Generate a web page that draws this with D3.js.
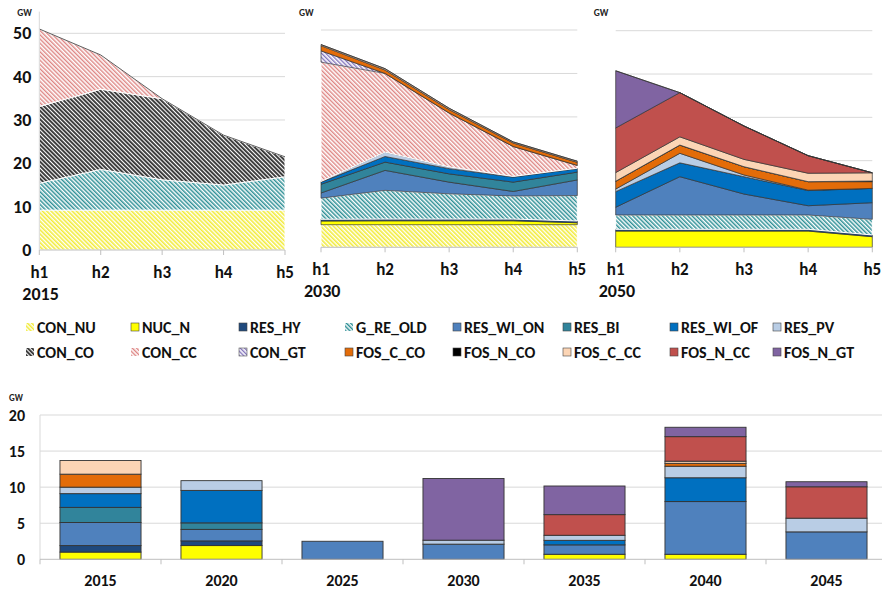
<!DOCTYPE html>
<html>
<head>
<meta charset="utf-8">
<script src="https://cdn.jsdelivr.net/npm/d3@7"></script>
<style>
  body { margin: 0; background: #fff; }
  svg { display: block; font-family: Carlito, Lato, "Open Sans", sans-serif; font-weight: bold; }
</style>
</head>
<body>
<svg id="chart" width="882" height="590"></svg>
<script>
// ---- data -------------------------------------------------------------
const hours = ["h1", "h2", "h3", "h4", "h5"];
const yearLabels = ["2015", "2030", "2050"];
const barYears = ["2015", "2020", "2025", "2030", "2035", "2040", "2045"];
const areaTicks = [0, 10, 20, 30, 40, 50];
const barTicks = [0, 5, 10, 15, 20];

const legendRow1 = ["CON_NU", "NUC_N", "RES_HY", "G_RE_OLD", "RES_WI_ON", "RES_BI", "RES_WI_OF", "RES_PV"];
const legendRow2 = ["CON_CO", "CON_CC", "CON_GT", "FOS_C_CO", "FOS_N_CO", "FOS_C_CC", "FOS_N_CC", "FOS_N_GT"];

// installed capacity (GW) per load hour, stacked bottom to top
const cap2015 = [
  ["CON_NU",   [9.2, 9.2, 9.2, 9.2, 9.2]],
  ["G_RE_OLD", [6.2, 9.4, 7.0, 5.8, 7.7]],
  ["CON_CO",   [17.7, 18.5, 18.7, 11.5, 4.6]],
  ["CON_CC",   [17.9, 7.9, 0, 0, 0]]
];
const cap2030 = [
  ["CON_NU",    [5.2, 5.2, 5.2, 5.2, 5.2]],
  ["NUC_N",     [0.85, 0.9, 0.9, 0.9, 0.45]],
  ["RES_HY",    [0.4, 0.4, 0.4, 0.4, 0.4]],
  ["G_RE_OLD",  [4.85, 6.6, 5.8, 5.3, 5.85]],
  ["RES_WI_ON", [1.2, 4.6, 2.7, 1.05, 3.6]],
  ["RES_BI",    [2.0, 1.9, 1.9, 2.15, 1.8]],
  ["RES_WI_OF", [0.5, 1.3, 1.2, 1.15, 0.8]],
  ["RES_PV",    [0.15, 1.0, 0.4, 0.15, 0.1]],
  ["CON_CC",    [27.45, 18.1, 12.4, 6.9, 0.65]],
  ["CON_GT",    [2.6, 0, 0, 0, 0]],
  ["FOS_C_CO",  [1.2, 0.8, 0.8, 0.8, 0.7]],
  ["FOS_C_CC",  [0.25, 0.3, 0.3, 0.25, 0.25]]
];
const cap2050 = [
  ["NUC_N",     [3.75, 3.75, 3.75, 3.75, 2.45]],
  ["RES_HY",    [0.4, 0.4, 0.4, 0.4, 0.4]],
  ["G_RE_OLD",  [3.3, 3.3, 3.3, 3.3, 3.6]],
  ["RES_WI_ON", [1.8, 8.85, 4.85, 2.15, 3.85]],
  ["RES_WI_OF", [3.6, 3.2, 4.0, 3.5, 3.3]],
  ["RES_PV",    [0.6, 2.2, 0.4, 0.1, 0]],
  ["FOS_C_CO",  [1.8, 1.9, 1.9, 1.95, 1.55]],
  ["FOS_N_CO",  [0, 0, 0, 0, 0.15]],
  ["FOS_C_CC",  [2.0, 1.9, 1.7, 1.95, 1.9]],
  ["FOS_N_CC",  [10.3, 10.2, 7.7, 4.05, 0]],
  ["FOS_N_GT",  [13.2, 0, 0, 0, 0]]
];

// new-build capacity (GW) per investment year
const newBuild = [
  ["NUC_N",     [1.0, 1.9, 0, 0, 0.7, 0.7, 0]],
  ["RES_HY",    [0.9, 0.65, 0, 0, 0, 0, 0]],
  ["RES_WI_ON", [3.2, 1.6, 2.5, 2.1, 1.3, 7.3, 3.8]],
  ["RES_BI",    [2.1, 0.9, 0, 0, 0, 0, 0]],
  ["RES_WI_OF", [1.9, 4.5, 0, 0, 0.63, 3.3, 0]],
  ["RES_PV",    [0.9, 1.35, 0, 0.55, 0.7, 1.6, 1.9]],
  ["FOS_C_CO",  [1.8, 0, 0, 0, 0, 0.4, 0]],
  ["FOS_C_CC",  [1.9, 0, 0, 0, 0, 0.3, 0]],
  ["FOS_N_CC",  [0, 0, 0, 0, 2.86, 3.4, 4.35]],
  ["FOS_N_GT",  [0, 0, 0, 8.55, 3.97, 1.3, 0.7]]
];

// ---- styles -----------------------------------------------------------
const solid = {
  NUC_N: "#ffff00", RES_HY: "#1f497d", RES_WI_ON: "#4f81bd", RES_BI: "#31849b",
  RES_WI_OF: "#0070c0", RES_PV: "#b9cde5", FOS_C_CO: "#e36c09", FOS_N_CO: "#000000",
  FOS_C_CC: "#fcd5b5", FOS_N_CC: "#c0504d", FOS_N_GT: "#8064a2"
};
// fine diagonal hatches for the conventional / old fleets
const hatch = {
  CON_NU:   { line: "#f2ec3c", w: 1.6, edge: "#ffffff" },
  G_RE_OLD: { line: "#2f9096", w: 1.5, edge: "#ffffff" },
  CON_CO:   { line: "#363636", w: 1.9, edge: "#ffffff" },
  CON_CC:   { line: "#de8684", w: 1.4, edge: "#ffffff" },
  CON_GT:   { line: "#8577bd", w: 1.4, edge: "#3a3a3a" }
};
const hatchPeriod = 3;

const svg = d3.select("#chart");
const defs = svg.append("defs");
Object.entries(hatch).forEach(([k, h]) => {
  const p = defs.append("pattern")
    .attr("id", "hatch-" + k)
    .attr("patternUnits", "userSpaceOnUse")
    .attr("width", hatchPeriod).attr("height", hatchPeriod)
    .attr("patternTransform", "rotate(-45)");
  p.append("rect").attr("width", hatchPeriod).attr("height", hatchPeriod).attr("fill", "#fff");
  p.append("rect").attr("width", h.w).attr("height", hatchPeriod).attr("fill", h.line);
});
const fillOf = k => hatch[k] ? `url(#hatch-${k})` : solid[k];
const strokeOf = k => hatch[k] ? hatch[k].edge : "#333";

// ---- area panels ------------------------------------------------------
const panels = [
  { data: cap2015, x0: 39.3, x1: 285, yBase: 250, y50: 33.3, labels: true, hourY: 278, yearY: 300 },
  { data: cap2030, x0: 321, x1: 577.3, yBase: 247.3, y50: 30, labels: false, hourY: 275, yearY: 297 },
  { data: cap2050, x0: 615.7, x1: 872.3, yBase: 247.3, y50: 30.7, labels: false, hourY: 275, yearY: 297 }
];

panels.forEach((p, pi) => {
  const g = svg.append("g");
  const x = d3.scalePoint().domain(hours).range([p.x0, p.x1]);
  const y = d3.scaleLinear().domain([0, 50]).range([p.yBase, p.y50]);

  g.selectAll("line.grid").data(areaTicks.filter(d => d > 0)).join("line")
    .attr("x1", p.x0).attr("x2", p.x1)
    .attr("y1", d => y(d)).attr("y2", d => y(d))
    .attr("stroke", "#d9d9d9").attr("stroke-width", 1);

  const rows = hours.map((h, i) => {
    const o = { hour: h };
    p.data.forEach(([k, v]) => { o[k] = v[i]; });
    return o;
  });
  const stacked = d3.stack().keys(p.data.map(d => d[0]))(rows);
  const area = d3.area()
    .x(d => x(d.data.hour))
    .y0(d => y(d[0]))
    .y1(d => y(d[1]));

  g.selectAll("path.layer").data(stacked).join("path")
    .attr("d", area)
    .attr("fill", d => fillOf(d.key))
    .attr("stroke", d => strokeOf(d.key))
    .attr("stroke-width", d => hatch[d.key] && hatch[d.key].edge === "#ffffff" ? 1 : 0.7)
    .attr("stroke-linejoin", "round");

  // outline of the total
  const top = stacked[stacked.length - 1];
  g.append("path")
    .attr("d", d3.line().x(d => x(d.data.hour)).y(d => y(d[1]))(top))
    .attr("fill", "none").attr("stroke", "#333").attr("stroke-width", 0.8);

  // x axis
  g.append("line").attr("x1", p.x0).attr("x2", p.x1)
    .attr("y1", p.yBase).attr("y2", p.yBase)
    .attr("stroke", "#bfbfbf");
  g.selectAll("line.tick").data(hours).join("line")
    .attr("x1", d => x(d)).attr("x2", d => x(d))
    .attr("y1", p.yBase).attr("y2", p.yBase + 5)
    .attr("stroke", "#bfbfbf");
  g.selectAll("text.hour").data(hours).join("text")
    .attr("x", d => x(d)).attr("y", p.hourY)
    .attr("text-anchor", "middle").attr("font-size", 17).attr("fill", "#111")
    .text(d => d);
  g.append("text").attr("x", p.x0 - 17).attr("y", p.yearY)
    .attr("font-size", 18).attr("fill", "#111").text(yearLabels[pi]);
  g.append("text").attr("x", p.x0 - 22).attr("y", 16)
    .attr("font-size", 9.5).attr("fill", "#222").text("GW");

  if (p.labels) {
    g.append("line").attr("x1", p.x0).attr("x2", p.x0)
      .attr("y1", p.yBase).attr("y2", y(55))
      .attr("stroke", "#d9d9d9");
    g.selectAll("text.ytick").data(areaTicks).join("text")
      .attr("x", p.x0 - 8).attr("y", d => y(d) + 6)
      .attr("text-anchor", "end").attr("font-size", 18).attr("fill", "#111")
      .text(d => d);
  }
});

// ---- legend -----------------------------------------------------------
const legendX = [26, 131, 239, 345, 453, 563, 670, 773];
[[legendRow1, 327], [legendRow2, 352]].forEach(([row, cy]) => {
  const lg = svg.append("g");
  row.forEach((k, i) => {
    const item = lg.append("g").attr("transform", `translate(${legendX[i]},${cy})`);
    item.append("rect").attr("x", 0).attr("y", -4).attr("width", 8).attr("height", 8)
      .attr("fill", fillOf(k))
      .attr("stroke", hatch[k] ? (k === "CON_GT" ? "#555" : "none") : "#444")
      .attr("stroke-width", 0.6);
    item.append("text").attr("x", 11).attr("y", 5.5)
      .attr("font-size", 16).attr("fill", "#111").text(k);
  });
});

// ---- new-build bar chart ---------------------------------------------
const bx = d3.scaleBand().domain(barYears).range([40, 887]).paddingInner(0.33).paddingOuter(0.165);
const by = d3.scaleLinear().domain([0, 20]).range([559.3, 415]);
const bg = svg.append("g");

bg.selectAll("line.grid").data(barTicks.filter(d => d > 0)).join("line")
  .attr("x1", 40).attr("x2", 882)
  .attr("y1", d => by(d)).attr("y2", d => by(d))
  .attr("stroke", "#d9d9d9");
bg.append("line").attr("x1", 40).attr("x2", 40).attr("y1", by(0)).attr("y2", by(20))
  .attr("stroke", "#d9d9d9");

const barRows = barYears.map((yr, i) => {
  const o = { year: yr };
  newBuild.forEach(([k, v]) => { o[k] = v[i]; });
  return o;
});
const barStack = d3.stack().keys(newBuild.map(d => d[0]))(barRows);
bg.selectAll("g.layer").data(barStack).join("g")
  .attr("fill", d => solid[d.key])
  .selectAll("rect").data(d => d.filter(s => s[1] - s[0] > 0)).join("rect")
  .attr("x", d => bx(d.data.year))
  .attr("width", bx.bandwidth())
  .attr("y", d => by(d[1]))
  .attr("height", d => by(d[0]) - by(d[1]))
  .attr("stroke", "#333").attr("stroke-width", 0.9);

bg.append("line").attr("x1", 40).attr("x2", 882).attr("y1", by(0)).attr("y2", by(0))
  .attr("stroke", "#bfbfbf");
const step = bx.step();
bg.selectAll("line.tick").data(d3.range(barYears.length + 1)).join("line")
  .attr("x1", i => 40 + i * step).attr("x2", i => 40 + i * step)
  .attr("y1", by(0)).attr("y2", by(0) + 5)
  .attr("stroke", "#bfbfbf");
bg.selectAll("text.year").data(barYears).join("text")
  .attr("x", d => bx(d) + bx.bandwidth() / 2).attr("y", 586)
  .attr("text-anchor", "middle").attr("font-size", 16).attr("fill", "#111")
  .text(d => d);
bg.selectAll("text.ytick").data(barTicks).join("text")
  .attr("x", 25).attr("y", d => by(d) + 5.5)
  .attr("text-anchor", "end").attr("font-size", 16).attr("fill", "#111")
  .text(d => d);
bg.append("text").attr("x", 9).attr("y", 401).attr("font-size", 9).attr("fill", "#222").text("GW");
</script>
</body>
</html>
